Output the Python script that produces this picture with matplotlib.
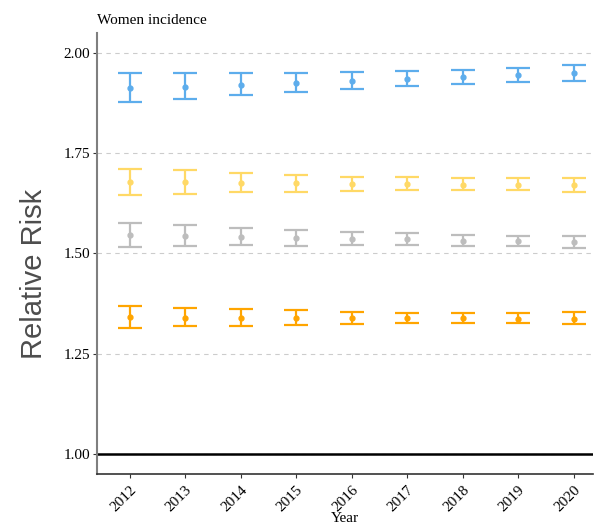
import numpy as np
import matplotlib
matplotlib.use("Agg")
import matplotlib.pyplot as plt

years = [2012, 2013, 2014, 2015, 2016, 2017, 2018, 2019, 2020]

# blue series
blue_rr = [1.912, 1.916, 1.921, 1.925, 1.929, 1.936, 1.940, 1.945, 1.949]
blue_lo = [1.878, 1.886, 1.896, 1.903, 1.910, 1.918, 1.923, 1.928, 1.930]
blue_hi = [1.949, 1.949, 1.949, 1.949, 1.952, 1.955, 1.958, 1.963, 1.970]

# yellow series
yellow_rr = [1.677, 1.677, 1.675, 1.675, 1.673, 1.672, 1.670, 1.670, 1.671]
yellow_lo = [1.645, 1.649, 1.652, 1.654, 1.656, 1.658, 1.658, 1.657, 1.653]
yellow_hi = [1.711, 1.707, 1.700, 1.695, 1.691, 1.690, 1.688, 1.688, 1.689]

# grey series
grey_rr = [1.545, 1.543, 1.541, 1.538, 1.536, 1.535, 1.532, 1.530, 1.528]
grey_lo = [1.516, 1.518, 1.520, 1.519, 1.522, 1.520, 1.519, 1.518, 1.513]
grey_hi = [1.576, 1.571, 1.564, 1.558, 1.553, 1.551, 1.547, 1.544, 1.544]

# orange series
orange_rr = [1.341, 1.340, 1.338, 1.338, 1.338, 1.338, 1.338, 1.337, 1.336]
orange_lo = [1.313, 1.318, 1.320, 1.322, 1.323, 1.326, 1.326, 1.326, 1.323]
orange_hi = [1.368, 1.363, 1.361, 1.358, 1.353, 1.351, 1.351, 1.351, 1.353]

series = [
    (blue_rr, blue_lo, blue_hi, "#5DADEC"),
    (yellow_rr, yellow_lo, yellow_hi, "#FFD966"),
    (grey_rr, grey_lo, grey_hi, "#BDBDBD"),
    (orange_rr, orange_lo, orange_hi, "#FFA500"),
]

serif = "Liberation Serif"

fig = plt.figure(figsize=(5.96, 5.29), dpi=100)
ax = fig.add_axes([0.163, 0.104, 0.832, 0.834])

for rr, lo, hi, col in series:
    rr = np.array(rr)
    err = [rr - np.array(lo), np.array(hi) - rr]
    ax.errorbar(years, rr, yerr=err, fmt="o", color=col, ecolor=col,
                markersize=3.5, elinewidth=1.6, capsize=8.5, capthick=1.6, zorder=3)

ax.axhline(1.0, color="black", linewidth=1.8, zorder=2)

ax.set_xlim(2011.41, 2020.35)
ax.set_ylim(0.95, 2.05)
ax.set_yticks([1.00, 1.25, 1.50, 1.75, 2.00])
ax.set_yticklabels(["1.00", "1.25", "1.50", "1.75", "2.00"], fontfamily=serif, fontsize=11)
ax.set_xticks(years)
ax.set_xticklabels([str(y) for y in years], rotation=45, ha="right",
                   rotation_mode="anchor", fontfamily=serif, fontsize=11)

ax.yaxis.grid(True, linestyle=(0, (4, 4)), color="#CCCCCC", linewidth=0.8)
ax.set_axisbelow(True)

for s in ["top", "right"]:
    ax.spines[s].set_visible(False)
ax.spines["left"].set_color("#7F7F7F")
ax.spines["left"].set_linewidth(1.5)
ax.spines["bottom"].set_color("#333333")
ax.spines["bottom"].set_linewidth(1.2)
ax.tick_params(axis="both", length=3, color="#333333", pad=2)
ax.tick_params(axis="x", pad=4)

ax.set_xlabel("Year", fontfamily=serif, fontsize=11)
ax.xaxis.set_label_coords(0.5, -0.087)
ax.set_ylabel("Relative Risk", fontfamily="Liberation Sans", fontsize=21,
              color="#4D4D4D")
ax.yaxis.set_label_coords(-0.099, 0.453)
ax.set_title("Women incidence", fontfamily=serif, fontsize=11, loc="left", pad=6)

fig.savefig("out.png", dpi=100)
